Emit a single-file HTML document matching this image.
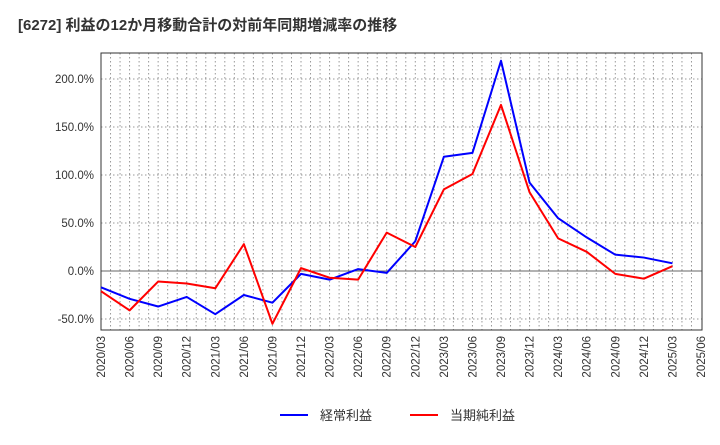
<!DOCTYPE html>
<html><head><meta charset="utf-8"><style>
body{margin:0;background:#fff;font-family:"Liberation Sans","Noto Sans CJK JP",sans-serif}
svg text{font-family:"Liberation Sans","Noto Sans CJK JP",sans-serif}
</style></head><body>
<svg id="c" width="720" height="440" xmlns="http://www.w3.org/2000/svg">
<text x="18" y="30" font-size="15" font-weight="bold" fill="#333">[6272]  利益の12か月移動合計の対前年同期増減率の推移</text>
<g id="grid"></g><g id="axes"></g><g id="series"></g>
<g>
<line x1="280" y1="415" x2="308" y2="415" stroke="#0000ff" stroke-width="2"/>
<text x="320" y="420" font-size="13" fill="#333">経常利益</text>
<line x1="410" y1="415" x2="438" y2="415" stroke="#ff0000" stroke-width="2"/>
<text x="450" y="420" font-size="13" fill="#333">当期純利益</text>
</g>
</svg>
<script>
const categories=["2020/03","2020/06","2020/09","2020/12","2021/03","2021/06","2021/09","2021/12","2022/03","2022/06","2022/09","2022/12","2023/03","2023/06","2023/09","2023/12","2024/03","2024/06","2024/09","2024/12","2025/03","2025/06"];
const ordinaryProfit=[-17,-29,-37,-27,-45,-25,-33,-3,-9,2,-2,31,119,123,219,92,55,35,17,14,8];
const netProfit=[-21,-41,-11,-13,-18,28,-55,3,-7,-9,40,25,85,101,173,82,34,20,-3,-8,5];
const yTicks=[-50,0,50,100,150,200];
const L=101,R=702,T=53,B=330;
const NS="http://www.w3.org/2000/svg";
const xs=i=>L+(R-L-1)*i/(categories.length-1);
const ys=v=>271-v*0.96;
function mk(tag,attrs,parent){const e=document.createElementNS(NS,tag);for(const k in attrs)e.setAttribute(k,attrs[k]);parent.appendChild(e);return e;}
const grid=document.getElementById('grid'),axes=document.getElementById('axes'),ser=document.getElementById('series');
const n=(categories.length-1)*3;
for(let m=1;m<n;m++){const x=L+(R-L-1)*m/n;
 const g=mk('line',{x1:x,x2:x,y1:T,y2:B,stroke:'#999','stroke-dasharray':'1.5,2.5','stroke-width':1},grid);
 
 }
yTicks.forEach(v=>{const y=ys(v);
 const g=mk('line',{x1:L,x2:R,y1:y,y2:y,stroke:v===0?'#666':'#999','stroke-dasharray':v===0?'none':'1.5,2.5','stroke-width':1},grid);
 
 
 const t=mk('text',{x:L-7,y:y+4,'font-size':11.5,'text-anchor':'end',fill:'#333'},axes);t.textContent=v.toFixed(1)+'%';
 
 });
const fr=mk('rect',{x:L,y:T,width:R-L,height:B-T,fill:'none',stroke:'#333','stroke-width':1},axes);


categories.forEach((c,i)=>{const x=xs(i);
 const t=mk('text',{transform:`translate(${x+4},${B+6}) rotate(-90)`,'font-size':11.5,'text-anchor':'end',fill:'#333'},axes);t.textContent=c;
 
 });
function line(data,color,name){const p=data.map((v,i)=>xs(i)+','+ys(v)).join(' ');
 const e=mk('polyline',{points:p,fill:'none',stroke:color,'stroke-width':2,'stroke-linejoin':'round'},ser);
 
 }
line(ordinaryProfit,'#0000ff','ordinary-profit-line');
line(netProfit,'#ff0000','net-profit-line');
</script>
</body></html>
